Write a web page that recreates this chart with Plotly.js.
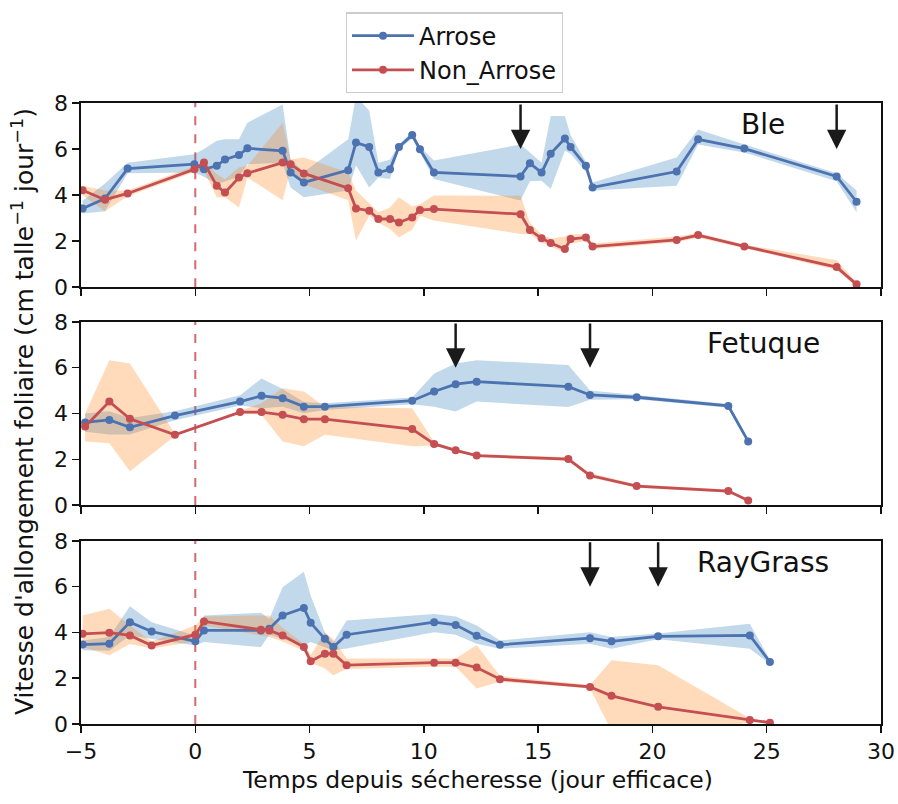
<!DOCTYPE html>
<html>
<head>
<meta charset="utf-8">
<script src="https://cdn.plot.ly/plotly-3.0.1.min.js"></script>
<style>html,body{margin:0;padding:0;background:#fff;}#chart{width:898px;height:804px;}</style>
</head>
<body>
<div id="chart"></div>
<script>
// ---------- Data ----------
var bleT = [-4.93,-3.95,-2.96,-0.04,0.38,0.94,1.30,1.91,2.28,3.82,4.17,4.75,6.69,7.03,7.61,8.01,8.52,8.91,9.49,9.83,10.44,14.23,14.64,15.15,15.55,16.17,16.42,17.09,17.38,21.06,22.0,24.02,28.06,28.93];
var bleArr = [3.42,3.85,5.15,5.34,5.12,5.27,5.55,5.74,6.03,5.92,4.98,4.55,5.08,6.28,6.09,4.98,5.12,6.09,6.61,5.99,4.98,4.81,5.38,4.98,5.80,6.46,6.09,5.27,4.33,5.02,6.42,6.02,4.81,3.71];
var bleArrHi = [3.75,4.50,5.40,5.77,6.00,6.36,6.42,6.42,7.14,7.94,5.55,5.00,6.42,8.30,7.66,5.40,5.55,6.20,6.75,6.10,5.50,6.20,5.85,5.40,7.44,7.44,6.60,5.45,4.55,5.63,6.85,6.20,4.95,4.20];
var bleArrLo = [3.20,3.30,4.95,4.98,4.80,4.47,4.60,4.80,5.34,5.40,4.33,3.90,4.20,5.30,4.33,4.76,4.70,6.00,6.45,5.85,4.70,3.76,4.60,4.62,4.26,5.93,5.80,5.00,4.20,4.40,6.20,5.85,4.60,3.25];
var bleNon = [4.21,3.80,4.07,5.12,5.41,4.40,4.11,4.76,4.95,5.41,5.34,4.94,4.30,3.42,3.32,2.96,2.96,2.81,3.03,3.35,3.39,3.17,2.48,2.12,1.92,1.66,2.09,2.16,1.76,2.05,2.26,1.77,0.87,0.12];
var bleNonHi = [4.40,4.20,4.20,5.25,5.48,4.90,4.69,5.20,5.27,7.14,5.55,5.63,4.98,4.20,3.64,3.25,3.46,3.90,3.50,3.60,3.98,3.97,2.80,2.30,2.10,2.20,2.30,2.30,1.90,2.20,2.35,1.85,1.17,0.20];
var bleNonLo = [4.00,3.30,3.95,5.00,5.05,3.90,3.90,3.46,4.76,3.77,5.12,4.47,3.77,2.03,3.10,2.81,2.53,2.16,2.50,3.10,2.90,2.31,2.30,1.95,1.75,1.52,1.90,2.00,1.65,1.95,2.15,1.70,0.74,0.02];

var fetT = [-4.82,-3.76,-2.86,-0.89,1.96,2.90,3.82,4.75,5.67,9.49,10.45,11.39,12.31,16.32,17.27,19.31,23.32,24.19];
var fetArr = [3.61,3.72,3.40,3.91,4.52,4.77,4.67,4.30,4.30,4.56,4.96,5.28,5.39,5.17,4.81,4.71,4.33,2.78];
var fetArrHi = [4.00,4.10,3.80,4.10,4.80,5.53,5.07,4.50,4.45,4.70,5.75,6.19,6.33,6.12,5.00,4.80,4.42,2.85];
var fetArrLo = [3.20,3.08,3.08,3.70,4.35,4.23,4.30,4.01,4.15,4.40,4.30,4.09,4.52,4.28,4.60,4.62,4.25,2.70];
var fetNon = [3.43,4.52,3.77,3.07,4.06,4.06,3.94,3.75,3.75,3.32,2.67,2.39,2.16,2.01,1.29,0.83,0.61,0.20];
var fetNonHi = [4.00,6.33,6.19,3.12,4.12,4.45,5.10,4.96,4.30,4.23,2.75,2.45,2.22,2.10,1.40,0.90,0.68,0.25];
var fetNonLo = [2.78,2.70,1.48,3.02,4.00,3.95,2.78,2.57,3.07,2.57,2.60,2.33,2.10,1.92,1.20,0.76,0.54,0.15];

var rayT = [-4.93,-3.76,-2.86,-1.91,0.0,0.38,2.87,3.24,3.82,4.75,5.05,5.67,6.04,6.62,10.45,11.39,12.31,13.33,17.27,18.21,20.25,24.26,25.14];
var rayArr = [3.47,3.51,4.45,4.04,3.61,4.09,4.09,4.16,4.74,5.07,4.42,3.72,3.36,3.90,4.45,4.33,3.85,3.46,3.75,3.61,3.83,3.87,2.71];
var rayArrHi = [3.65,3.80,5.14,4.45,3.87,4.74,4.86,4.60,5.97,6.65,5.60,4.00,3.58,4.52,4.81,4.70,4.30,3.65,4.01,3.80,3.95,4.38,2.80];
var rayArrLo = [3.22,3.20,3.87,3.72,3.43,3.58,3.36,3.90,3.72,3.43,3.58,3.35,3.22,3.30,4.01,3.90,3.51,3.29,3.51,3.29,3.70,3.29,2.62];
var rayNon = [3.94,3.99,3.87,3.43,3.90,4.48,4.12,4.09,3.87,3.36,2.74,3.07,3.07,2.57,2.68,2.68,2.47,1.96,1.62,1.23,0.75,0.17,0.06];
var rayNonHi = [4.74,5.03,4.30,3.60,4.30,4.70,4.74,4.74,4.20,3.50,3.00,4.01,3.70,2.86,2.86,2.86,3.45,2.10,1.70,2.78,2.57,0.25,0.10];
var rayNonLo = [3.36,3.00,3.50,3.30,3.60,4.30,3.87,3.80,3.60,3.20,2.68,2.42,2.13,2.40,2.50,2.50,1.55,1.85,1.55,-0.30,-1.00,0.10,0.02];

var panelNames = ["Ble","Fetuque","RayGrass"];
var arrowsBle = [14.23, 28.06];
var arrowsFet = [11.39, 17.27];
var arrowsRay = [17.27, 20.25];
var seriesNames = ["Arrose","Non_Arrose"];

// ---------- Styles ----------
var BLUE = "#4c72b0", RED = "#c44e52";
var BLUE_FILL = "rgba(31,119,180,0.28)", ORANGE_FILL = "rgba(255,127,14,0.28)";
var FONT = "DejaVu Sans, sans-serif";

var panels = [
  {t: bleT, a: bleArr, aHi: bleArrHi, aLo: bleArrLo, n: bleNon, nHi: bleNonHi, nLo: bleNonLo, arrows: arrowsBle, name: panelNames[0]},
  {t: fetT, a: fetArr, aHi: fetArrHi, aLo: fetArrLo, n: fetNon, nHi: fetNonHi, nLo: fetNonLo, arrows: arrowsFet, name: panelNames[1]},
  {t: rayT, a: rayArr, aHi: rayArrHi, aLo: rayArrLo, n: rayNon, nHi: rayNonHi, nLo: rayNonLo, arrows: arrowsRay, name: panelNames[2]}
];

function band(t, hi, lo, color, xa, ya) {
  return {
    x: t.concat(t.slice().reverse()),
    y: hi.concat(lo.slice().reverse()),
    type: "scatter", mode: "lines", fill: "toself",
    fillcolor: color, line: {width: 0, color: "rgba(0,0,0,0)"},
    hoverinfo: "skip", showlegend: false, xaxis: xa, yaxis: ya
  };
}
function line(t, v, color, name, show, xa, ya) {
  return {
    x: t, y: v, type: "scatter", mode: "lines+markers", name: name,
    line: {color: color, width: 2.8}, marker: {color: color, size: 8},
    showlegend: show, legendgroup: name, xaxis: xa, yaxis: ya
  };
}

var traces = [];
var annotations = [];
var shapes = [];
panels.forEach(function(p, i) {
  var xa = i === 0 ? "x" : "x" + (i + 1);
  var ya = i === 0 ? "y" : "y" + (i + 1);
  traces.push(band(p.t, p.aHi, p.aLo, BLUE_FILL, xa, ya));
  traces.push(band(p.t, p.nHi, p.nLo, ORANGE_FILL, xa, ya));
  traces.push(line(p.t, p.a, BLUE, seriesNames[0], i === 0, xa, ya));
  traces.push(line(p.t, p.n, RED, seriesNames[1], i === 0, xa, ya));
  shapes.push({type: "line", xref: xa, yref: ya + " domain", x0: 0, x1: 0, y0: 0, y1: 1,
    line: {color: "rgba(205,80,85,0.85)", width: 2, dash: "dash"}, layer: "below"});
  p.arrows.forEach(function(ax) {
    annotations.push({x: ax, y: 6.0, ax: ax, ay: 8.0, xref: xa, yref: ya, axref: xa, ayref: ya,
      showarrow: true, arrowhead: 2, arrowsize: 1.55, arrowwidth: 2.5, arrowcolor: "#1a1a1a", text: "", standoff: 0});
  });
  annotations.push({x: 24.84, y: 7.05, xref: xa, yref: ya, text: p.name, showarrow: false,
    font: {family: FONT, size: 28, color: "#111"}, xanchor: "center", yanchor: "middle"});
});

annotations.push({xref: "paper", yref: "paper", x: -0.072, y: 0.503, textangle: -90,
  text: "Vitesse d'allongement foliaire (cm talle<sup>−1</sup> jour<sup>−1</sup>)",
  showarrow: false, font: {family: FONT, size: 25, color: "#111"}, xanchor: "center", yanchor: "middle"});
annotations.push({xref: "paper", yref: "paper", x: 0.496, y: -0.09,
  text: "Temps depuis sécheresse (jour efficace)", showarrow: false,
  font: {family: FONT, size: 23.5, color: "#111"}, xanchor: "center", yanchor: "middle"});

function xax(anchor, showLabels) {
  var a = {anchor: anchor, domain: [0, 1], range: [-5, 30], dtick: 5, tick0: 0,
    showticklabels: showLabels, ticks: "outside", ticklen: 7, tickwidth: 1.5, tickcolor: "#111",
    showline: true, mirror: true, linecolor: "#111", linewidth: 1.6, showgrid: false, zeroline: false,
    tickfont: {family: FONT, size: 22, color: "#111"}};
  if (anchor !== "y") a.matches = "x";
  return a;
}
function yax(anchor, domain) {
  return {anchor: anchor, domain: domain, range: [0, 8], dtick: 2, tick0: 0,
    ticks: "outside", ticklen: 7, tickwidth: 1.5, tickcolor: "#111",
    showline: true, mirror: true, linecolor: "#111", linewidth: 1.6, showgrid: false, zeroline: false,
    tickfont: {family: FONT, size: 22, color: "#111"}};
}

var layout = {
  width: 898, height: 804,
  margin: {l: 81, r: 17, t: 100, b: 80},
  paper_bgcolor: "#fff", plot_bgcolor: "#fff",
  font: {family: FONT, size: 20, color: "#111"},
  showlegend: true,
  legend: {x: 0.331, y: 1.146, xanchor: "left", yanchor: "top",
    bordercolor: "#cccccc", borderwidth: 1.2, bgcolor: "#fff", itemwidth: 62,
    font: {family: FONT, size: 24, color: "#111"}, tracegroupgap: 0},
  xaxis: xax("y", false),
  xaxis2: xax("y2", false),
  xaxis3: xax("y3", true),
  yaxis: yax("x", [0.7035, 1]),
  yaxis2: yax("x2", [0.3526, 0.6474]),
  yaxis3: yax("x3", [0, 0.2949]),
  shapes: shapes,
  annotations: annotations
};

Plotly.newPlot("chart", traces, layout, {displayModeBar: false, staticPlot: true});
</script>
</body>
</html>
